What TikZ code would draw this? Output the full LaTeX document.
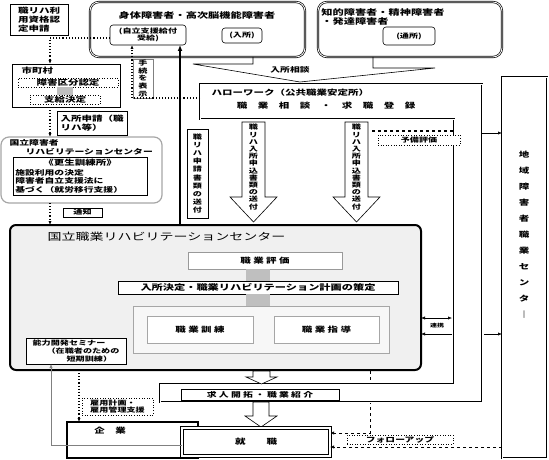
\documentclass[tikz,border=0pt]{standalone}
\usepackage{fontspec}
\setmainfont[FakeStretch=1.4]{Noto Sans CJK JP}
\usetikzlibrary{arrows.meta}

\begin{document}
\begin{tikzpicture}[>={Latex[length=4pt,width=3.2pt]},x=1pt,y=-1pt,line width=0.6pt,
  font=\fontsize{7.5}{9}\selectfont\bfseries,
  sz/.style 2 args={minimum width=#1pt,minimum height=#2pt},
  box/.style={draw,fill=white,anchor=north west,inner sep=1pt,outer sep=0pt,align=center},
  dotbox/.style={box,dotted,line width=0.9pt},
  grp/.style={box,double,double distance=0.8pt,line width=0.7pt,rounded corners=9pt},
  sub/.style={box,rounded corners=3pt,font=\fontsize{6.5}{7.5}\selectfont\bfseries},
  tate/.style={align=center,inner sep=0pt,font=\fontsize{6}{7}\selectfont\bfseries},
  dots/.style={dotted,line width=1.1pt},
  bar/.style={fill=gray!50}]
  \useasboundingbox (0,0) rectangle (549,460);

  % applicants and groups
  \node[box,sz={58}{31},align=left] (riyou) at (10,4) {職リハ利\\用資格認\\定申請};
  \node[grp,sz={215}{55}] (grpA) at (90,2) {};
  \node[font=\fontsize{8}{9}\selectfont\bfseries] at (197,15) {身体障害者・高次脳機能障害者};
  \node[sub,sz={76}{20}] (subA1) at (110,25) {(自立支援給付\\受給)};
  \node[sub,sz={40}{15}] (subA2) at (222,28) {(入所)};
  \node[grp,sz={184}{55}] (grpB) at (318,2) {};
  \node[align=left,font=\fontsize{8}{9}\selectfont\bfseries] at (383,17) {知的障害者・精神障害者\\・発達障害者};
  \node[sub,sz={52}{18}] (subB) at (383,27) {(通所)};
  \draw (253,57) -- (253,64) -- (193,64) -- (300,82) -- (435,68) -- (373,68) -- (373,57);
  \node[font=\fontsize{7}{8}\selectfont\bfseries] at (290,70) {入所相談};

  % municipality side
  \coordinate (d1) at (50,0);
  \node[box,sz={108}{43}] (shicho) at (12,64) {};
  \node[anchor=west] at (18,71) {市町村};
  \node[dotbox,sz={100}{9},line width=0.6pt] (kubun) at (18,78) {障害区分認定};
  \node[dotbox,sz={70}{9},line width=0.6pt] (shikyu) at (30,95) {支給決定};
  \fill[bar] ([xshift=-8pt]kubun.south -| shikyu.north) rectangle ([xshift=8pt]shikyu.north);
  \draw[dots,->] ([yshift=-3pt]subA1.west) -| (d1 |- shicho.north);
  \node[box,sz={70}{24},align=left] (nyusho) at (57,111) {入所申請（職\\リハ等）};
  \node[box,sz={161}{66},rounded corners=8pt,draw=gray!70,line width=1.2pt] (kokuri) at (1,137) {};
  \draw[dots,->] (shicho.south -| d1) -- (kokuri.north -| d1);
  \node[anchor=west,font=\fontsize{7}{8}\selectfont\bfseries] at (6,143) {国立障害者};
  \node[anchor=west,font=\fontsize{7}{8}\selectfont\bfseries] at (22,152) {リハビリテーションセンター};
  \node[box,sz={134}{38}] (kunrenjo) at (13,157) {};
  \node at (80,163) {《更生訓練所》};
  \node[anchor=north west,align=left,inner sep=0pt,font=\fontsize{7}{8.5}\selectfont\bfseries] at (15,169)
    {施設利用の決定\\障害者自立支援法に\\基づく（就労移行支援）};
  \node[box,sz={39}{9},font=\fontsize{6.5}{7}\selectfont\bfseries] (tsuchi) at (63,208) {通知};

  % hello work
  \draw[dashed,->] (370,371) -- (370,433) -- (330,433);
  \draw[fill=white,double,double distance=0.8pt] (200,84) -- (482,84) -- (482,402) -- (160,402)
    -- (160,384) -- (454,384) -- (454,119) -- (200,119) -- cycle;
  \node[anchor=north west,sz={282}{35},inner sep=0pt] (hw) at (200,84) {};
  \node[anchor=west] at (208,93) {ハローワーク（公共職業安定所）};
  \node at (326,106) {職　業　相　談　・　求　職　登　録};
  \node[box,sz={158}{11},font=\fontsize{7}{8}\selectfont\bfseries] (kyujin) at (181,389) {求 人 開 拓 ・ 職 業 紹 介};

  \node[box,sz={20}{39},draw=gray,tate,font=\fontsize{6.5}{7.8}\selectfont\bfseries] (tetsu) at (133,59) {手\\続\\を\\表\\示};
  \coordinate (tz) at (132,98);
  \draw[dots,->] (hw.west |- tz) -- (tz) -- (tz |- subA1.south);

  \node[box,sz={21}{89},tate,font=\fontsize{6.5}{8.2}\selectfont\bfseries] (shinsei) at (187,129)
    {職\\リ\\ハ\\申\\請\\書\\類\\の\\送\\付};
  \foreach \ax in {242,345}{
    \draw[fill=white] (\ax,122) -- (\ax+23,122) -- (\ax+23,197) -- (\ax+35,197) -- (\ax+11.5,222)
      -- (\ax-12,197) -- (\ax,197) -- cycle;
    \node[tate,font=\fontsize{6.5}{7.2}\selectfont\bfseries] at (\ax+11.5,167)
      {職\\リ\\ハ\\入\\所\\申\\込\\書\\類\\の\\送\\付};
  }
  \draw[dashed,line width=1.2pt] (372,131) -- (454,131);
  \node[dotbox,sz={82}{10},font=\fontsize{6.5}{7}\selectfont\bfseries,line width=0.6pt] (yobi) at (378,135) {予備評価};

  % regional centre
  \node[box,sz={45}{381},double,double distance=0.8pt] (chiiki) at (502,77) {};
  \node[align=center,font=\fontsize{7.5}{16}\selectfont\bfseries] at (524,235)
    {地\\域\\障\\害\\者\\職\\業\\セ\\ン\\タ\\｜};
  \coordinate (r1) at (482,133);
  \draw[->] (r1) -- (r1 -| chiiki.west);
  \coordinate (r2) at (484,334);
  \draw[->] (r2) -- (r2 -| chiiki.west);

  % national centre
  \node[box,sz={411}{145},fill=gray!12,line width=2pt,rounded corners=6pt] (center) at (10,225) {};
  \coordinate (up) at (180,0);
  \draw[line width=1.6pt,-{Latex[length=6pt,width=5pt]}] (center.north -| up) -- (subA1.south -| up);
  \draw[dots,->] (kokuri.south -| d1) -- (center.north -| d1);
  \node[anchor=west,font=\fontsize{10}{12}\selectfont] at (44,237) {国立職業リハビリテーションセンター};
  \node[box,sz={154}{17},draw=gray!80] (hyoka) at (188,252) {職 業 評 価};
  \node[box,sz={280}{13},font=\fontsize{8}{9}\selectfont\bfseries] (keikaku) at (118,281) {入所決定・職業リハビリテーション計画の策定};
  \fill[bar] ([xshift=-12pt]keikaku.north |- hyoka.south) rectangle ([xshift=12pt]keikaku.north);
  \node[box,sz={256}{47},draw=gray!70,line width=1pt,fill=gray!6] (waku) at (133,306) {};
  \fill[bar] ([xshift=-12pt]keikaku.south) rectangle ([xshift=12pt]keikaku.south |- waku.north);
  \node[box,sz={106}{27},draw=gray!70,line width=1pt] (kunren) at (147,316) {職 業 訓 練};
  \node[box,sz={105}{27},draw=gray!70,line width=1pt] (shido) at (274,316) {職 業 指 導};
  \node[box,sz={100}{26},align=left,font=\fontsize{6.5}{8}\selectfont\bfseries] (seminar) at (26,338)
    {能力開発セミナー\\\hspace*{14pt}（在職者のための\\\hspace*{34pt}短期訓練）};
  \coordinate (k1) at (452,318);
  \draw[<->] (center.east |- k1) -- (k1);
  \coordinate (k2) at (452,334);
  \draw[->] (k2) -- (center.east |- k2);
  \node[font=\fontsize{5}{6}\selectfont\bfseries] at (437,326) {連携};

  % placement
  \draw[fill=white] (253,371) -- (270,371) -- (270,377) -- (277,377) -- (261.5,384) -- (246,377)
    -- (253,377) -- cycle;
  \draw[fill=white] (253,402) -- (269,402) -- (269,416) -- (277,416) -- (261,427) -- (245,416)
    -- (253,416) -- cycle;
  \node[box,sz={131}{36},line width=1.4pt] (kigyo) at (67,422) {};
  \node at (110,431) {企　業};
  \node[box,sz={148}{28},double,double distance=1.5pt,line width=0.8pt] (shushoku) at (182,428) {就　　職};
  \node[dotbox,sz={71}{17},align=left,font=\fontsize{6.5}{7.5}\selectfont\bfseries,line width=0.6pt] (koyo) at (82,398)
    {雇用計画・\\雇用管理支援};
  \coordinate (kd) at (79,0);
  \draw[dots,->] (center.south -| kd) -- (kigyo.north -| kd);
  \coordinate (sm) at (51,445);
  \draw[gray,->] (shushoku.west |- sm) -- (sm) -- (seminar.south -| sm);
  \node[dotbox,sz={106}{9},font=\fontsize{7}{8}\selectfont\bfseries,line width=0.6pt] (follow) at (347,435) {フォローアップ};
  \coordinate (f2) at (502,447);
  \draw[dashed,->] (chiiki.west |- f2) -- (shushoku.east |- f2);
\end{tikzpicture}
\end{document}
